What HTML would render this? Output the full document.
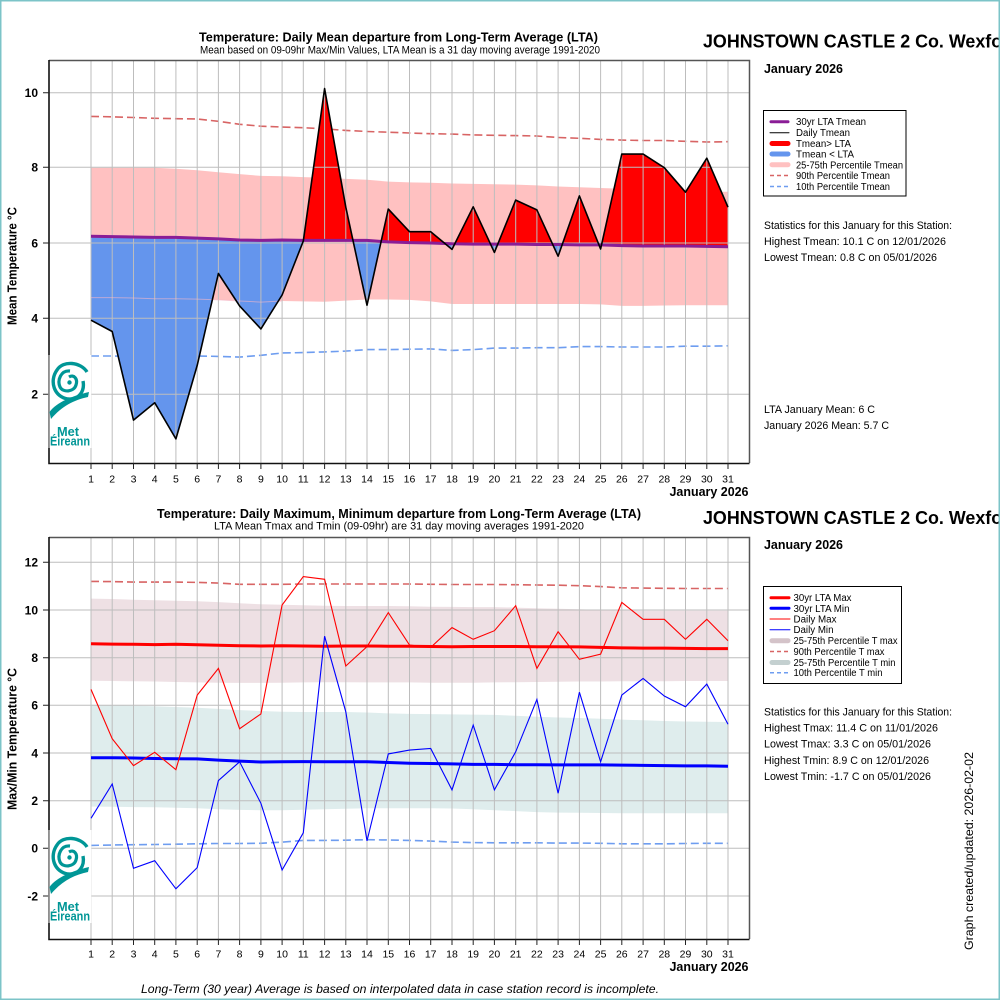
<!DOCTYPE html>
<html><head><meta charset="utf-8"><style>
html,body{margin:0;padding:0;background:#fff;}
svg{display:block;}
text{font-family:"Liberation Sans",Arial,sans-serif;fill:#000;}
</style></head><body>
<svg width="1000" height="1000" viewBox="0 0 1000 1000" xmlns="http://www.w3.org/2000/svg">
<defs>
<clipPath id="cAbove"><polygon points="91,236.2 112.2,236.6 133.5,237 154.7,237.4 175.9,237.4 197.2,238.1 218.4,238.9 239.6,240 260.9,240.4 282.1,240 303.3,240.4 324.6,240.4 345.8,240.4 367,240.4 388.3,241.9 409.5,242.6 430.7,243 452,243.8 473.2,244.1 494.4,244.1 515.7,244.1 536.9,244.5 558.1,244.5 579.4,244.9 600.6,244.9 621.8,245.6 643.1,246 664.3,246 685.5,246 706.8,246.4 728,246.8 728,40 91,40"/></clipPath>
<clipPath id="cBelow"><polygon points="91,236.2 112.2,236.6 133.5,237 154.7,237.4 175.9,237.4 197.2,238.1 218.4,238.9 239.6,240 260.9,240.4 282.1,240 303.3,240.4 324.6,240.4 345.8,240.4 367,240.4 388.3,241.9 409.5,242.6 430.7,243 452,243.8 473.2,244.1 494.4,244.1 515.7,244.1 536.9,244.5 558.1,244.5 579.4,244.9 600.6,244.9 621.8,245.6 643.1,246 664.3,246 685.5,246 706.8,246.4 728,246.8 728,470 91,470"/></clipPath>
</defs>
<rect x="0" y="0" width="1000" height="1000" fill="#fff"/>

<!-- ================= TOP PANEL ================= -->
<polygon fill="#ffc1c1" points="91,167.7 112.2,167.7 133.5,167.7 154.7,167.7 175.9,168.8 197.2,170.3 218.4,172.2 239.6,174.1 260.9,175.9 282.1,176.3 303.3,177.1 324.6,177.8 345.8,178.9 367,179.7 388.3,181.6 409.5,182.4 430.7,182.7 452,183.5 473.2,183.9 494.4,184.2 515.7,184.6 536.9,185.4 558.1,186.5 579.4,187.2 600.6,188 621.8,188.7 643.1,189.5 664.3,190.3 685.5,191.4 706.8,191.8 728,191.8 728,305.2 706.8,305.2 685.5,305.2 664.3,305.5 643.1,305.9 621.8,305.9 600.6,304.4 579.4,304 558.1,304 536.9,304 515.7,304 494.4,304 473.2,304 452,304 430.7,301.4 409.5,299.9 388.3,299.5 367,299.5 345.8,300.6 324.6,301.8 303.3,301.4 282.1,301 260.9,302.1 239.6,301 218.4,299.9 197.2,299.1 175.9,298.7 154.7,298.7 133.5,298 112.2,297.6 91,297.6"/>
<polyline fill="none" stroke="#d86464" stroke-width="1.6" stroke-dasharray="8,4" points="91,116.4 112.2,116.8 133.5,117.5 154.7,118.3 175.9,118.7 197.2,119 218.4,121.3 239.6,124.3 260.9,126.2 282.1,127 303.3,127.7 324.6,128.9 345.8,130.4 367,131.5 388.3,132.2 409.5,133 430.7,133.7 452,134.1 473.2,134.9 494.4,135.3 515.7,135.6 536.9,136 558.1,137.5 579.4,138.3 600.6,139.4 621.8,140.1 643.1,140.5 664.3,140.5 685.5,141.3 706.8,142 728,141.7"/>
<polyline fill="none" stroke="#6e9df0" stroke-width="1.6" stroke-dasharray="8,4" points="91,356 112.2,356 133.5,356.4 154.7,356.4 175.9,356 197.2,356 218.4,356.4 239.6,357.1 260.9,355.3 282.1,353 303.3,352.6 324.6,351.9 345.8,351.1 367,349.6 388.3,349.6 409.5,349.2 430.7,348.9 452,350.4 473.2,349.6 494.4,348.1 515.7,348.1 536.9,347.7 558.1,347.7 579.4,346.6 600.6,346.6 621.8,347 643.1,347 664.3,347 685.5,346.2 706.8,346.2 728,345.8"/>
<g>
<polygon fill="#ff0000" clip-path="url(#cAbove)" points="91,320.2 112.2,331.5 133.5,420.1 154.7,402.7 175.9,438.9 197.2,365.4 218.4,273.5 239.6,305.9 260.9,328.9 282.1,295 303.3,241.1 324.6,88.6 345.8,207.2 367,305.2 388.3,209.1 409.5,231.7 430.7,231.7 452,249.4 473.2,206.8 494.4,252.4 515.7,200.1 536.9,209.9 558.1,256.2 579.4,195.9 600.6,249 621.8,154.1 643.1,154.1 664.3,167.7 685.5,192.2 706.8,158.2 728,207.2 728,246.8 706.8,246.4 685.5,246 664.3,246 643.1,246 621.8,245.6 600.6,244.9 579.4,244.9 558.1,244.5 536.9,244.5 515.7,244.1 494.4,244.1 473.2,244.1 452,243.8 430.7,243 409.5,242.6 388.3,241.9 367,240.4 345.8,240.4 324.6,240.4 303.3,240.4 282.1,240 260.9,240.4 239.6,240 218.4,238.9 197.2,238.1 175.9,237.4 154.7,237.4 133.5,237 112.2,236.6 91,236.2"/>
<polygon fill="#6495ed" clip-path="url(#cBelow)" points="91,320.2 112.2,331.5 133.5,420.1 154.7,402.7 175.9,438.9 197.2,365.4 218.4,273.5 239.6,305.9 260.9,328.9 282.1,295 303.3,241.1 324.6,88.6 345.8,207.2 367,305.2 388.3,209.1 409.5,231.7 430.7,231.7 452,249.4 473.2,206.8 494.4,252.4 515.7,200.1 536.9,209.9 558.1,256.2 579.4,195.9 600.6,249 621.8,154.1 643.1,154.1 664.3,167.7 685.5,192.2 706.8,158.2 728,207.2 728,246.8 706.8,246.4 685.5,246 664.3,246 643.1,246 621.8,245.6 600.6,244.9 579.4,244.9 558.1,244.5 536.9,244.5 515.7,244.1 494.4,244.1 473.2,244.1 452,243.8 430.7,243 409.5,242.6 388.3,241.9 367,240.4 345.8,240.4 324.6,240.4 303.3,240.4 282.1,240 260.9,240.4 239.6,240 218.4,238.9 197.2,238.1 175.9,237.4 154.7,237.4 133.5,237 112.2,236.6 91,236.2"/>
</g>
<path id="vgrid" fill="none" stroke="#bdbdbd" stroke-width="1" d="M91 60V463M112.2 60V463M133.5 60V463M154.7 60V463M175.9 60V463M197.2 60V463M218.4 60V463M239.6 60V463M260.9 60V463M282.1 60V463M303.3 60V463M324.6 60V463M345.8 60V463M367 60V463M388.3 60V463M409.5 60V463M430.7 60V463M452 60V463M473.2 60V463M494.4 60V463M515.7 60V463M536.9 60V463M558.1 60V463M579.4 60V463M600.6 60V463M621.8 60V463M643.1 60V463M664.3 60V463M685.5 60V463M706.8 60V463M728 60V463"/>
<path fill="none" stroke="#bdbdbd" stroke-width="1" d="M49 92.7H749M49 167.3H749M49 243H749M49 318.3H749M49 394.3H749"/>
<polyline fill="none" stroke="#f4b8c8" stroke-opacity="0.6" stroke-width="1" points="91,297.6 112.2,297.6 133.5,298 154.7,298.7 175.9,298.7 197.2,299.1 218.4,299.9 239.6,301 260.9,302.1 282.1,301"/>
<polyline fill="none" stroke="#8a1d96" stroke-width="3" points="91,236.2 112.2,236.6 133.5,237 154.7,237.4 175.9,237.4 197.2,238.1 218.4,238.9 239.6,240 260.9,240.4 282.1,240 303.3,240.4 324.6,240.4 345.8,240.4 367,240.4 388.3,241.9 409.5,242.6 430.7,243 452,243.8 473.2,244.1 494.4,244.1 515.7,244.1 536.9,244.5 558.1,244.5 579.4,244.9 600.6,244.9 621.8,245.6 643.1,246 664.3,246 685.5,246 706.8,246.4 728,246.8"/>
<polyline fill="none" stroke="#000" stroke-width="1.6" stroke-linejoin="round" points="91,320.2 112.2,331.5 133.5,420.1 154.7,402.7 175.9,438.9 197.2,365.4 218.4,273.5 239.6,305.9 260.9,328.9 282.1,295 303.3,241.1 324.6,88.6 345.8,207.2 367,305.2 388.3,209.1 409.5,231.7 430.7,231.7 452,249.4 473.2,206.8 494.4,252.4 515.7,200.1 536.9,209.9 558.1,256.2 579.4,195.9 600.6,249 621.8,154.1 643.1,154.1 664.3,167.7 685.5,192.2 706.8,158.2 728,207.2"/>
<path fill="none" stroke="#555" stroke-width="1.5" d="M49 60.5H749.5V463"/>
<path fill="none" stroke="#111" stroke-width="1.6" d="M49 60V463.5H749.5"/>
<path id="xticks" fill="none" stroke="#222" stroke-width="1" d="M91 463V469M112.2 463V469M133.5 463V469M154.7 463V469M175.9 463V469M197.2 463V469M218.4 463V469M239.6 463V469M260.9 463V469M282.1 463V469M303.3 463V469M324.6 463V469M345.8 463V469M367 463V469M388.3 463V469M409.5 463V469M430.7 463V469M452 463V469M473.2 463V469M494.4 463V469M515.7 463V469M536.9 463V469M558.1 463V469M579.4 463V469M600.6 463V469M621.8 463V469M643.1 463V469M664.3 463V469M685.5 463V469M706.8 463V469M728 463V469"/>
<path fill="none" stroke="#222" stroke-width="1" d="M43 92.7H49M43 167.3H49M43 243H49M43 318.3H49M43 394.3H49"/>
<g font-size="12" font-weight="bold" text-anchor="end">
<text x="38" y="97">10</text><text x="38" y="171.6">8</text><text x="38" y="247.3">6</text><text x="38" y="322.6">4</text><text x="38" y="398.6">2</text>
</g>
<g font-size="10.5" text-anchor="middle">
<text x="91" y="482.5">1</text><text x="112.2" y="482.5">2</text><text x="133.5" y="482.5">3</text><text x="154.7" y="482.5">4</text><text x="175.9" y="482.5">5</text><text x="197.2" y="482.5">6</text><text x="218.4" y="482.5">7</text><text x="239.6" y="482.5">8</text><text x="260.9" y="482.5">9</text><text x="282.1" y="482.5">10</text><text x="303.3" y="482.5">11</text><text x="324.6" y="482.5">12</text><text x="345.8" y="482.5">13</text><text x="367" y="482.5">14</text><text x="388.3" y="482.5">15</text><text x="409.5" y="482.5">16</text><text x="430.7" y="482.5">17</text><text x="452" y="482.5">18</text><text x="473.2" y="482.5">19</text><text x="494.4" y="482.5">20</text><text x="515.7" y="482.5">21</text><text x="536.9" y="482.5">22</text><text x="558.1" y="482.5">23</text><text x="579.4" y="482.5">24</text><text x="600.6" y="482.5">25</text><text x="621.8" y="482.5">26</text><text x="643.1" y="482.5">27</text><text x="664.3" y="482.5">28</text><text x="685.5" y="482.5">29</text><text x="706.8" y="482.5">30</text><text x="728" y="482.5">31</text>
</g>
<text x="748.5" y="496" font-size="12.5" font-weight="bold" text-anchor="end" textLength="79" lengthAdjust="spacingAndGlyphs">January 2026</text>
<text transform="translate(16.5,266) rotate(-90)" font-size="12.5" font-weight="bold" text-anchor="middle" textLength="118" lengthAdjust="spacingAndGlyphs">Mean Temperature °C</text>
<text x="199" y="41.5" font-size="13" font-weight="bold" textLength="399" lengthAdjust="spacingAndGlyphs">Temperature: Daily Mean departure from Long-Term Average (LTA)</text>
<text x="200" y="53.5" font-size="11" textLength="400" lengthAdjust="spacingAndGlyphs">Mean based on 09-09hr Max/Min Values, LTA Mean is a 31 day moving average 1991-2020</text>
<text x="703" y="47.5" font-size="18.5" font-weight="bold" textLength="317" lengthAdjust="spacingAndGlyphs">JOHNSTOWN CASTLE 2 Co. Wexford</text>
<text x="764" y="73" font-size="13" font-weight="bold" textLength="79" lengthAdjust="spacingAndGlyphs">January 2026</text>
<rect x="763.5" y="110.5" width="142.5" height="85.5" fill="#fff" stroke="#000" stroke-width="1"/>
<g stroke-linecap="round" fill="none">
<line x1="771" y1="121.7" x2="788" y2="121.7" stroke="#8a1d96" stroke-width="3"/>
<line x1="770" y1="132.7" x2="789" y2="132.7" stroke="#000" stroke-width="1"/>
<line x1="772" y1="143.5" x2="788" y2="143.5" stroke="#ff0000" stroke-width="5"/>
<line x1="772" y1="154" x2="788" y2="154" stroke="#6495ed" stroke-width="5"/>
<line x1="772" y1="164.7" x2="788" y2="164.7" stroke="#ffc1c1" stroke-width="5"/>
<line x1="770" y1="175.5" x2="789" y2="175.5" stroke="#d86464" stroke-width="1.5" stroke-dasharray="4,3" stroke-linecap="butt"/>
<line x1="770" y1="186.5" x2="789" y2="186.5" stroke="#6e9df0" stroke-width="1.5" stroke-dasharray="4,3" stroke-linecap="butt"/>
</g>
<g font-size="10">
<text x="796" y="125.2" textLength="70" lengthAdjust="spacingAndGlyphs">30yr LTA Tmean</text>
<text x="796" y="136.2" textLength="54" lengthAdjust="spacingAndGlyphs">Daily Tmean</text>
<text x="796" y="147.1" textLength="55" lengthAdjust="spacingAndGlyphs">Tmean&gt; LTA</text>
<text x="796" y="157.6" textLength="58" lengthAdjust="spacingAndGlyphs">Tmean &lt; LTA</text>
<text x="796" y="168.3" textLength="107" lengthAdjust="spacingAndGlyphs">25-75th Percentile Tmean</text>
<text x="796" y="179.1" textLength="94" lengthAdjust="spacingAndGlyphs">90th Percentile Tmean</text>
<text x="796" y="190.1" textLength="94" lengthAdjust="spacingAndGlyphs">10th Percentile Tmean</text>
</g>
<g font-size="11">
<text x="764" y="229" textLength="188" lengthAdjust="spacingAndGlyphs">Statistics for this January for this Station:</text>
<text x="764" y="245" textLength="182" lengthAdjust="spacingAndGlyphs">Highest Tmean: 10.1 C on 12/01/2026</text>
<text x="764" y="261" textLength="173" lengthAdjust="spacingAndGlyphs">Lowest Tmean: 0.8 C on 05/01/2026</text>
<text x="764" y="413" textLength="111" lengthAdjust="spacingAndGlyphs">LTA January Mean: 6 C</text>
<text x="764" y="429" textLength="125" lengthAdjust="spacingAndGlyphs">January 2026 Mean: 5.7 C</text>
</g>
<g id="logo">
<rect x="49.8" y="355" width="41.5" height="93" fill="#fff"/>
<line x1="49" y1="355" x2="49" y2="448" stroke="#9a9a9a" stroke-width="1.5"/>
<path d="M87,372 C81,362 63,360 57,370 C49,381 54,397 68,399 C79,400 85,391 83,381" fill="none" stroke="#009696" stroke-width="3.4"/>
<path d="M70,371 C61,370 57,380 60,387 C63,393 74,392 76,385 C78,379 74,374 69,377" fill="none" stroke="#009696" stroke-width="3.2"/>
<circle cx="69.5" cy="382.5" r="2.2" fill="#009696"/>
<path d="M49.5,412 C57,402 72,396 89,392 L88,397 C74,400 62,406 51,419 Z" fill="#009696"/>
<text x="57" y="436" font-size="13" font-weight="600" style="fill:#009696" textLength="22" lengthAdjust="spacingAndGlyphs">Met</text>
<text x="50" y="445.5" font-size="12.5" font-weight="600" style="fill:#009696" textLength="40" lengthAdjust="spacingAndGlyphs">Éireann</text>
</g>

<!-- ================= BOTTOM PANEL ================= -->
<polygon fill="#eee0e4" points="91,598.6 112.2,599 133.5,599.7 154.7,600.2 175.9,600.7 197.2,601.2 218.4,602.1 239.6,603.3 260.9,604.3 282.1,604.8 303.3,605.2 324.6,605.7 345.8,606 367,606 388.3,606 409.5,606.2 430.7,606.7 452,606.9 473.2,607.1 494.4,607.1 515.7,607.6 536.9,608.3 558.1,608.8 579.4,609.3 600.6,610 621.8,610.5 643.1,610.7 664.3,610.7 685.5,610.7 706.8,610.7 728,610.7 728,681 706.8,681 685.5,681 664.3,681.3 643.1,681.3 621.8,681.3 600.6,681.5 579.4,681.5 558.1,681.7 536.9,682 515.7,682.2 494.4,682.4 473.2,682.7 452,682.7 430.7,682.7 409.5,682.4 388.3,682.4 367,682.4 345.8,682.2 324.6,682.2 303.3,682.4 282.1,682.7 260.9,682.9 239.6,682.9 218.4,682.7 197.2,682.4 175.9,682 154.7,681.5 133.5,681.3 112.2,681 91,680.8"/>
<polygon fill="#dfeded" points="91,704.8 112.2,705.3 133.5,705.8 154.7,706.3 175.9,707 197.2,707.7 218.4,708.9 239.6,710.1 260.9,711 282.1,711.8 303.3,712 324.6,712 345.8,712 367,712.5 388.3,713.4 409.5,713.9 430.7,714.1 452,714.4 473.2,714.6 494.4,714.9 515.7,715.8 536.9,716.8 558.1,717.5 579.4,718 600.6,718.7 621.8,719.6 643.1,720.3 664.3,721 685.5,721.5 706.8,721.8 728,722 728,813.3 706.8,813.3 685.5,813.3 664.3,813.3 643.1,813.3 621.8,813.3 600.6,813 579.4,812.8 558.1,812.6 536.9,812.1 515.7,811.1 494.4,810.2 473.2,809.2 452,808.5 430.7,808.3 409.5,808.3 388.3,808.3 367,808.3 345.8,808.7 324.6,809.2 303.3,809.7 282.1,810.2 260.9,810.2 239.6,809.9 218.4,809.2 197.2,808.3 175.9,807.8 154.7,807.3 133.5,807.1 112.2,806.8 91,806.6"/>
<polyline fill="none" stroke="#d86464" stroke-width="1.6" stroke-dasharray="8,4" points="91,581.4 112.2,581.6 133.5,582.1 154.7,582.1 175.9,582.1 197.2,582.4 218.4,583.1 239.6,584.3 260.9,584.3 282.1,584.3 303.3,584 324.6,584 345.8,584 367,584 388.3,584 409.5,584 430.7,584.3 452,584.5 473.2,584.5 494.4,584.5 515.7,584.7 536.9,585 558.1,585.2 579.4,585.7 600.6,586.6 621.8,587.8 643.1,588.1 664.3,588.3 685.5,588.5 706.8,588.5 728,588.5"/>
<polyline fill="none" stroke="#6e9df0" stroke-width="1.6" stroke-dasharray="8,4" points="91,845.4 112.2,845 133.5,844.7 154.7,844.5 175.9,844.2 197.2,843.8 218.4,843.5 239.6,843.5 260.9,843.3 282.1,842.1 303.3,840.4 324.6,840.4 345.8,840.2 367,839.7 388.3,840 409.5,840.4 430.7,841.1 452,842.1 473.2,842.6 494.4,842.8 515.7,842.8 536.9,842.8 558.1,843.1 579.4,843.1 600.6,843.3 621.8,843.8 643.1,843.8 664.3,843.8 685.5,843.5 706.8,843.3 728,843.3"/>
<use href="#vgrid" transform="translate(0,477)"/>
<path fill="none" stroke="#bdbdbd" stroke-width="1" d="M49 562.3H749M49 610H749M49 657.7H749M49 705.3H749M49 753H749M49 800.7H749M49 848.3H749M49 896H749"/>
<polyline fill="none" stroke="#ff0000" stroke-width="3" points="91,643.8 112.2,644.1 133.5,644.3 154.7,644.6 175.9,644.3 197.2,644.8 218.4,645.3 239.6,645.7 260.9,646 282.1,645.7 303.3,646 324.6,646.2 345.8,646 367,646 388.3,646.2 409.5,646.2 430.7,646.5 452,646.7 473.2,646.5 494.4,646.5 515.7,646.5 536.9,646.7 558.1,646.7 579.4,646.9 600.6,647.4 621.8,647.9 643.1,648.1 664.3,648.1 685.5,648.4 706.8,648.6 728,648.6"/>
<polyline fill="none" stroke="#0000ff" stroke-width="3" points="91,757.7 112.2,757.7 133.5,758 154.7,758.5 175.9,758.7 197.2,758.9 218.4,760.1 239.6,761.1 260.9,762 282.1,761.8 303.3,761.6 324.6,761.8 345.8,761.8 367,761.8 388.3,762.5 409.5,763.2 430.7,763.5 452,763.9 473.2,764.4 494.4,764.4 515.7,764.7 536.9,764.7 558.1,764.9 579.4,764.9 600.6,764.9 621.8,765.1 643.1,765.4 664.3,765.6 685.5,765.9 706.8,765.9 728,766.3"/>
<polyline fill="none" stroke="#ff0000" stroke-width="1.1" points="91,689.4 112.2,738.7 133.5,765.6 154.7,752.3 175.9,769.7 197.2,695.1 218.4,668.4 239.6,728.7 260.9,713.9 282.1,605 303.3,576.6 324.6,579.3 345.8,666 367,646.7 388.3,612.6 409.5,645 430.7,647.4 452,627.6 473.2,639.3 494.4,630.7 515.7,605.7 536.9,668.4 558.1,631.7 579.4,659.3 600.6,654.1 621.8,602.4 643.1,619.3 664.3,619.3 685.5,639.3 706.8,619.3 728,640.7"/>
<polyline fill="none" stroke="#0000ff" stroke-width="1.1" points="91,818.3 112.2,784 133.5,868.3 154.7,860.7 175.9,888.8 197.2,867.6 218.4,780.6 239.6,761.8 260.9,803.3 282.1,870 303.3,832.8 324.6,636.2 345.8,711.8 367,840.9 388.3,753.9 409.5,750.1 430.7,748.5 452,789.9 473.2,725.1 494.4,789.9 515.7,751.8 536.9,699.4 558.1,793.3 579.4,692.2 600.6,761.8 621.8,695.1 643.1,678.4 664.3,696 685.5,706.8 706.8,684.1 728,724.2"/>
<path fill="none" stroke="#555" stroke-width="1.5" d="M49 537.5H749.5V939"/>
<path fill="none" stroke="#111" stroke-width="1.6" d="M49 537V939.5H749.5"/>
<use href="#xticks" transform="translate(0,476)"/>
<path fill="none" stroke="#222" stroke-width="1" d="M43 562.3H49M43 610H49M43 657.7H49M43 705.3H49M43 753H49M43 800.7H49M43 848.3H49M43 896H49"/>
<g font-size="12" font-weight="bold" text-anchor="end">
<text x="38" y="566.6">12</text><text x="38" y="614.3">10</text><text x="38" y="662">8</text><text x="38" y="709.6">6</text><text x="38" y="757.3">4</text><text x="38" y="805">2</text><text x="38" y="852.6">0</text><text x="38" y="900.3">-2</text>
</g>
<g font-size="10.5" text-anchor="middle">
<text x="91" y="957.5">1</text><text x="112.2" y="957.5">2</text><text x="133.5" y="957.5">3</text><text x="154.7" y="957.5">4</text><text x="175.9" y="957.5">5</text><text x="197.2" y="957.5">6</text><text x="218.4" y="957.5">7</text><text x="239.6" y="957.5">8</text><text x="260.9" y="957.5">9</text><text x="282.1" y="957.5">10</text><text x="303.3" y="957.5">11</text><text x="324.6" y="957.5">12</text><text x="345.8" y="957.5">13</text><text x="367" y="957.5">14</text><text x="388.3" y="957.5">15</text><text x="409.5" y="957.5">16</text><text x="430.7" y="957.5">17</text><text x="452" y="957.5">18</text><text x="473.2" y="957.5">19</text><text x="494.4" y="957.5">20</text><text x="515.7" y="957.5">21</text><text x="536.9" y="957.5">22</text><text x="558.1" y="957.5">23</text><text x="579.4" y="957.5">24</text><text x="600.6" y="957.5">25</text><text x="621.8" y="957.5">26</text><text x="643.1" y="957.5">27</text><text x="664.3" y="957.5">28</text><text x="685.5" y="957.5">29</text><text x="706.8" y="957.5">30</text><text x="728" y="957.5">31</text>
</g>
<text x="748.5" y="971" font-size="12.5" font-weight="bold" text-anchor="end" textLength="79" lengthAdjust="spacingAndGlyphs">January 2026</text>
<text transform="translate(16.5,739) rotate(-90)" font-size="12.5" font-weight="bold" text-anchor="middle" textLength="142" lengthAdjust="spacingAndGlyphs">Max/Min Temperature °C</text>
<text x="157" y="518" font-size="13" font-weight="bold" textLength="484" lengthAdjust="spacingAndGlyphs">Temperature: Daily Maximum, Minimum departure from Long-Term Average (LTA)</text>
<text x="214" y="529.5" font-size="11" textLength="370" lengthAdjust="spacingAndGlyphs">LTA Mean Tmax and Tmin (09-09hr) are 31 day moving averages 1991-2020</text>
<text x="703" y="524" font-size="18.5" font-weight="bold" textLength="317" lengthAdjust="spacingAndGlyphs">JOHNSTOWN CASTLE 2 Co. Wexford</text>
<text x="764" y="549" font-size="13" font-weight="bold" textLength="79" lengthAdjust="spacingAndGlyphs">January 2026</text>
<rect x="763.5" y="586.5" width="138" height="97" fill="#fff" stroke="#000" stroke-width="1"/>
<g stroke-linecap="round" fill="none">
<line x1="771" y1="597.7" x2="789" y2="597.7" stroke="#ff0000" stroke-width="3"/>
<line x1="771" y1="608.3" x2="789" y2="608.3" stroke="#0000ff" stroke-width="3"/>
<line x1="770" y1="619" x2="790" y2="619" stroke="#ff0000" stroke-width="1"/>
<line x1="770" y1="629.7" x2="790" y2="629.7" stroke="#0000ff" stroke-width="1"/>
<line x1="772" y1="640.7" x2="788" y2="640.7" stroke="#d4c3c9" stroke-width="5"/>
<line x1="770" y1="651.5" x2="790" y2="651.5" stroke="#d86464" stroke-width="1.5" stroke-dasharray="4,3" stroke-linecap="butt"/>
<line x1="772" y1="662.5" x2="788" y2="662.5" stroke="#c4d0d0" stroke-width="5"/>
<line x1="770" y1="672.7" x2="790" y2="672.7" stroke="#6e9df0" stroke-width="1.5" stroke-dasharray="4,3" stroke-linecap="butt"/>
</g>
<g font-size="10">
<text x="793.5" y="601.2" textLength="58" lengthAdjust="spacingAndGlyphs">30yr LTA Max</text>
<text x="793.5" y="611.8" textLength="56" lengthAdjust="spacingAndGlyphs">30yr LTA Min</text>
<text x="793.5" y="622.5" textLength="43" lengthAdjust="spacingAndGlyphs">Daily Max</text>
<text x="793.5" y="633.2" textLength="40" lengthAdjust="spacingAndGlyphs">Daily Min</text>
<text x="793.5" y="644.2" textLength="104" lengthAdjust="spacingAndGlyphs">25-75th Percentile T max</text>
<text x="793.5" y="655" textLength="91" lengthAdjust="spacingAndGlyphs">90th Percentile T max</text>
<text x="793.5" y="666" textLength="102" lengthAdjust="spacingAndGlyphs">25-75th Percentile T min</text>
<text x="793.5" y="676.2" textLength="89" lengthAdjust="spacingAndGlyphs">10th Percentile T min</text>
</g>
<g font-size="11">
<text x="764" y="715.5" textLength="188" lengthAdjust="spacingAndGlyphs">Statistics for this January for this Station:</text>
<text x="764" y="731.5" textLength="174" lengthAdjust="spacingAndGlyphs">Highest Tmax: 11.4 C on 11/01/2026</text>
<text x="764" y="747.7" textLength="167" lengthAdjust="spacingAndGlyphs">Lowest Tmax: 3.3 C on 05/01/2026</text>
<text x="764" y="763.8" textLength="165" lengthAdjust="spacingAndGlyphs">Highest Tmin: 8.9 C on 12/01/2026</text>
<text x="764" y="779.8" textLength="167" lengthAdjust="spacingAndGlyphs">Lowest Tmin: -1.7 C on 05/01/2026</text>
</g>
<text transform="translate(973,851) rotate(-90)" font-size="12" text-anchor="middle" textLength="198" lengthAdjust="spacingAndGlyphs">Graph created/updated:  2026-02-02</text>
<use href="#logo" transform="translate(0,475)"/>
<text x="141" y="993" font-size="12" font-style="italic" textLength="518" lengthAdjust="spacingAndGlyphs">Long-Term (30 year) Average is based on interpolated data in case station record is incomplete.</text>
<rect x="0.75" y="0.75" width="998.5" height="998.5" fill="none" stroke="#7cc4c8" stroke-width="1.5"/>
</svg>
</body></html>
